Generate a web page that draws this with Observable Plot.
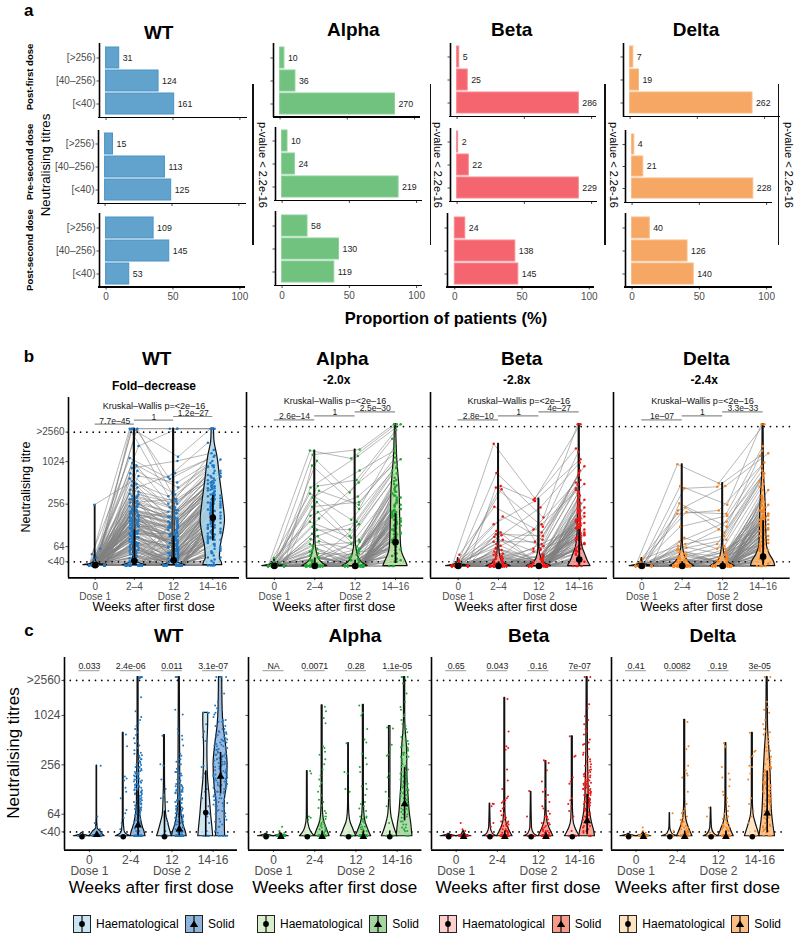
<!DOCTYPE html>
<html><head><meta charset="utf-8">
<script src="https://cdn.jsdelivr.net/npm/d3@7"></script>
<script src="https://cdn.jsdelivr.net/npm/@observablehq/plot@0.6"></script>
<style>
html,body{margin:0;padding:0;background:#fff}
#page{position:relative;width:800px;height:939px;overflow:hidden;font-family:"Liberation Sans",Arial,sans-serif;color:#000}
.t{position:absolute;white-space:nowrap;line-height:1}
</style></head><body><div id="page"></div>
<script>
// ---------- labels ----------
const variants = ["WT","Alpha","Beta","Delta"];
const titreCats = ["[>256)","[40–256)","[<40)"];
const rowNames = ["Post-first dose","Pre-second dose","Post-second dose"];
const weekLabelsB = ["0","2–4","12","14–16"];
const weekLabelsC = ["0","2-4","12","14-16"];
// ---------- panel a : proportion of patients (%) and counts, per dose row ----------
const wtPct    = [[9.8,39.2,50.9],[5.9,44.7,49.4],[35.5,47.2,17.3]];
const wtN      = [[31,124,161],[15,113,125],[109,145,53]];
const alphaPct = [[3.2,11.4,85.4],[4.0,9.5,86.6],[18.9,42.3,38.8]];
const alphaN   = [[10,36,270],[10,24,219],[58,130,119]];
const betaPct  = [[1.6,7.9,90.5],[0.8,8.7,90.5],[7.8,45.0,47.2]];
const betaN    = [[5,25,286],[2,22,229],[24,138,145]];
const deltaPct = [[2.4,6.6,91.0],[1.6,8.3,90.1],[13.1,41.2,45.8]];
const deltaN   = [[7,19,262],[4,21,228],[40,126,140]];
// ---------- panel b : titres per patient (same index = same patient) ----------
const floor80 = [35,35,35,35,35,35,35,35,35,35,35,35,35,35,35,35,35,35,35,35,35,35,35,35,35,35,35,35,35,35,35,35,35,35,35,35,35,35,35,35,35,35,35,35,35,35,35,35,35,35,35,35,35,35,35,35,35,35,35,35,35,35,35,35,35,35,35,35,35,35,35,35,35,35,35,35,35,35,35,35];
const wtWk0 = [35,35,35,60,35,35,35,50,35,35,35,35,45,35,35,250,35,35,35,35,42,35,35,35,35,35,35,35,35,35,35,35,35,35,35,35,38,35,35,35,35,35,35,35,35,35,35,35,35,35,35,35,35,35,35,35,35,35,35,35,35,35,35,35,35,35,35,35,35,35,35,35,35,35,35,35,35,35,35,35,...floor80];
const wtWk2 = [3000,3000,2900,3000,3000,2950,1700,1150,980,900,830,760,700,640,590,540,500,470,440,410,385,360,335,315,300,285,270,255,240,228,215,205,195,185,176,168,160,152,145,138,131,125,119,113,107,102,97,92,87,82,78,74,70,66,62,58,54,50,46,43,40,38,35,35,35,35,35,35,35,35,35,35,35,35,35,35,35,35,35,35,
 210,175,150,128,300,95,240,118,88,160,72,200,135,56,105,260,82,145,64,190,48,112,330,92,170,76,125,52,220,100,68,155,44,84,280,60,130,115,180,40,90,205,74,140,58,350,98,165,66,122,235,50,108,148,86,46,195,70,136,62,35,35,35,35,35,35,35,35,35,35,35,35,35,35,35,35,35,35,35,35];
const wtWk12 = [3000,1200,620,3000,300,210,3000,580,440,260,1050,350,190,520,230,120,330,145,700,280,98,170,210,64,125,88,300,140,72,52,110,44,160,70,35,95,55,120,40,80,66,35,130,50,35,75,100,40,58,35,45,62,35,85,38,35,48,35,35,42,35,35,190,90,58,35,35,42,35,35,125,35,35,35,50,35,35,35,35,35,
 160,95,210,64,120,48,170,80,35,110,42,140,60,35,75,190,35,100,40,130,35,70,230,55,105,35,90,38,150,50,35,115,35,62,200,35,85,78,125,35,58,145,44,92,35,260,52,118,35,72,165,35,66,96,45,35,135,35,88,40,35,35,52,35,35,80,35,35,35,44,35,35,60,35,35,35,35,35,35,35];
const wtWk14 = [3000,3000,1900,3000,1500,1100,3000,1250,980,860,1350,900,640,1050,760,520,880,610,1200,700,420,560,640,330,450,360,760,480,300,260,400,220,510,310,165,350,240,430,190,320,280,150,460,210,130,300,370,175,240,120,195,270,105,330,140,95,205,88,80,160,70,60,540,340,225,115,100,145,64,52,390,84,45,40,180,56,35,35,35,35,
 480,320,620,210,390,170,560,250,120,340,110,430,190,90,240,700,100,290,130,410,85,220,850,160,310,95,270,75,520,155,105,360,70,185,660,125,260,230,440,66,180,500,140,280,115,900,165,350,98,205,590,80,200,300,135,72,460,88,245,110,60,150,215,55,48,260,175,42,35,120,145,38,195,35,80,105,35,52,35,45];
const alphaWk0 = [35,35,35,35,40,35,35,35,35,35,35,45,35,35,35,35,35,38,35,35,35,35,35,35,35,35,35,35,35,35,35,35,35,35,35,35,35,35,35,35,35,35,35,35,35,35,35,35,35,35,35,35,35,35,35,35,35,35,35,35,...floor80.slice(0,50)];
const alphaWk2 = [1310,1150,950,820,430,410,370,340,300,260,225,190,170,155,140,120,108,96,90,82,76,70,66,60,56,52,48,45,42,40,38,38,35,35,35,35,35,35,35,35,35,35,35,35,35,35,35,35,35,35,35,35,35,35,35,35,35,35,35,35,
 35,48,35,35,60,35,42,35,35,35,55,35,35,38,35,35,44,35,35,35,35,35,50,35,35,35,35,40,35,35,35,35,35,35,35,46,35,35,35,35,35,35,35,35,35,35,35,35,35,35];
const alphaWk12 = [1020,1350,350,210,520,1100,240,150,700,90,260,64,310,480,85,60,110,40,140,35,56,35,75,45,35,50,35,35,70,35,35,130,35,35,58,35,35,35,80,35,35,35,42,35,35,35,35,35,35,35,35,35,35,35,35,35,35,35,35,35,
 35,35,52,35,35,35,60,35,38,35,35,35,45,35,35,35,35,48,35,35,35,35,35,42,35,35,35,35,35,55,35,35,35,35,40,35,35,35,35,35,35,35,35,44,35,35,35,35,35,35];
const alphaWk14 = [3000,3000,1900,1500,2500,3000,1050,800,1300,620,900,520,1000,1200,640,460,700,380,760,300,420,260,500,340,230,360,210,190,440,170,160,560,150,140,320,130,125,110,400,100,96,88,280,80,74,68,64,240,58,52,200,48,180,44,42,120,40,35,35,35,
 160,210,130,300,95,180,240,85,145,120,260,110,340,75,190,100,420,140,70,170,225,90,125,64,280,150,80,205,115,58,360,135,105,185,68,250,155,52,95,320,48,125,175,60,110,44,85,195,40,72];
const betaWk0 = [35,35,35,35,35,50,35,35,35,42,35,35,35,35,35,35,40,35,35,35,35,35,35,35,35,35,35,35,35,35,35,35,35,35,35,35,35,35,35,35,35,35,35,35,35,35,35,35,35,35,35,35,35,35,35,35,35,35,35,35,...floor80.slice(0,50)];
const betaWk2 = [1620,650,430,410,390,225,165,130,105,100,95,92,88,80,75,70,66,62,58,55,52,50,48,46,44,42,40,40,38,38,35,35,35,35,35,35,35,35,35,35,35,35,35,35,35,35,35,35,35,35,35,35,35,35,35,35,35,35,35,35,
 35,35,44,35,35,35,52,35,35,38,35,35,35,60,35,35,35,42,35,35,35,48,35,35,35,35,35,35,40,35,35,35,35,35,35,46,35,35,35,35,35,35,35,35,35,35,35,35,35,35];
const betaWk12 = [290,160,280,120,60,100,80,270,65,40,90,220,35,50,75,35,110,35,44,35,40,35,35,60,35,35,130,35,35,48,35,35,35,70,35,35,35,55,35,35,42,35,35,35,38,35,35,35,35,35,35,35,35,35,35,35,35,35,35,35,
 35,40,35,35,50,35,35,35,35,44,35,35,35,35,58,35,35,35,38,35,35,35,35,46,35,35,35,35,35,35,42,35,35,35,35,35,35,35,35,35,35,35,35,35,35,35,35,35,35,35];
const betaWk14 = [3000,3000,1400,1250,700,800,650,1000,450,380,600,900,280,360,520,260,480,240,320,220,300,200,190,400,180,170,460,160,155,340,150,145,140,135,130,125,120,115,110,105,100,96,92,88,84,80,74,70,64,60,55,50,46,42,40,38,35,35,35,35,
 120,95,180,75,210,140,64,160,110,88,250,130,58,195,100,70,150,82,225,52,115,170,92,66,135,280,78,48,105,185,60,125,44,145,85,205,72,40,98,155,56,118,68,165,46,90,130,62,42,108];
const deltaWk0 = [35,35,35,35,35,35,40,35,35,35,35,35,44,35,35,35,35,35,35,38,35,35,35,35,35,35,35,35,35,35,35,35,35,35,35,35,35,35,35,35,35,35,35,35,35,35,35,35,35,35,35,35,35,35,35,35,35,35,35,35,...floor80.slice(0,50)];
const deltaWk2 = [850,430,400,250,220,200,190,180,120,85,75,70,66,62,58,55,52,48,46,44,42,40,40,38,38,35,35,35,35,35,35,35,35,35,35,35,35,35,35,35,35,35,35,35,35,35,35,35,35,35,35,35,35,35,35,35,35,35,35,35,
 35,35,50,35,35,42,35,35,60,35,35,35,38,35,35,46,35,35,35,35,54,35,35,35,35,40,35,35,35,35,35,35,44,35,35,35,35,35,35,35,35,35,35,35,35,35,35,35,35,35];
const deltaWk12 = [470,240,420,120,100,430,180,200,170,60,140,90,50,80,110,45,70,40,65,35,55,35,42,35,48,35,35,35,35,35,35,35,35,60,35,35,35,35,44,35,35,35,35,35,35,35,35,35,35,35,35,35,35,35,35,35,35,35,35,35,
 35,44,35,35,35,35,56,35,35,35,40,35,35,35,50,35,35,35,35,35,38,35,35,35,46,35,35,35,35,35,35,35,35,42,35,35,35,35,35,35,35,35,35,35,35,35,35,35,35,35];
const deltaWk14 = [3000,3000,1100,1300,650,1200,1500,900,800,420,700,560,380,600,640,320,500,280,460,240,380,220,260,200,300,190,180,170,160,155,150,145,140,130,125,120,110,105,100,96,90,85,80,75,70,66,62,58,54,50,46,44,42,40,38,35,35,35,35,35,
 110,170,85,220,130,66,190,95,150,75,260,120,56,200,105,80,160,48,240,90,140,60,180,100,70,300,125,52,210,115,64,155,44,135,85,175,72,40,95,230,58,145,68,110,46,195,88,62,125,42];
// violin outlines of panel b: [titre, half width in week-slots]
const wtViolinsB = [
 [[35,.3],[36.5,.1],[40,.02],[60,.008],[250,.008]],
 [[35,.3],[37,.15],[40,.05],[50,.025],[128,.025],[500,.015],[3000,.012]],
 [[35,.3],[37,.16],[40,.05],[50,.025],[128,.025],[500,.015],[3000,.012]],
 [[35,.24],[38,.23],[44,.18],[64,.2],[100,.27],[150,.31],[256,.27],[560,.19],[1190,.12],[2060,.04],[3000,.03]]];
const alphaViolinsB = [
 [[35,.3],[36.5,.1],[39,.02],[45,.005]],
 [[35,.31],[38,.2],[44,.1],[54,.05],[70,.02],[128,.012],[1310,.01]],
 [[35,.31],[38,.2],[44,.1],[54,.05],[70,.02],[128,.012],[1350,.01]],
 [[35,.3],[40,.26],[52,.17],[64,.14],[120,.12],[375,.1],[1070,.04],[3000,.015]]];
const betaViolinsB = [
 [[35,.3],[36.5,.1],[39,.02],[45,.005]],
 [[35,.3],[38,.15],[44,.06],[60,.02],[128,.012],[1620,.01]],
 [[35,.3],[38,.16],[44,.06],[60,.015],[290,.01]],
 [[35,.28],[40,.22],[50,.15],[64,.08],[100,.04],[200,.03],[500,.015],[3000,.012]]];
const deltaViolinsB = [
 [[35,.3],[36.5,.1],[39,.02],[45,.005]],
 [[35,.3],[38,.2],[44,.1],[54,.04],[75,.015],[850,.01]],
 [[35,.3],[38,.18],[44,.08],[56,.03],[80,.012],[470,.01]],
 [[35,.3],[40,.27],[50,.17],[64,.1],[100,.08],[200,.07],[350,.05],[700,.02],[3000,.012]]];
const medB = [[35,40,41,164],[35,35,35,74],[35,35,35,43],[35,35,35,47]];
const q1B  = [[35,35,35,77],[35,35,35,38],[35,35,35,36],[35,35,35,36]];
const q3B  = [[35,110,90,340],[35,45,42,180],[35,40,38,110],[35,40,40,145]];
const kwP  = ["7.7e–45","1","1.2e–27","2.6e–14","1","2.5e–30","2.8e–10","1","4e–27","1e–07","1","3.3e–33"];
const subB = ["Fold–decrease","-2.0x","-2.8x","-2.4x"];
// ---------- panel c : haematological patients' titres; solid patients reuse the lists of panel b ----------
const wtHaem = [
 [35,35,35,35,35,35,35,35,35,35],
 [600,430,185,175,165,135,120,100,72,66,58,50,42,35,35,35,35,35,35,35,35,35],
 [580,260,250,170,130,110,100,90,70,60,50,40,35,35,35,35,35,35,35,35,35],
 [1100,1100,1100,800,650,560,500,250,240,200,180,130,120,100,80,65,60,50,40,35,35,35,35,35,35,35]];
const alphaHaem = [
 [35,35,35,35,35,35,35,35],
 [215,200,60,58,55,35,35,35,35,35,35,35,35,35],
 [470,210,200,130,120,35,35,35,35,35,35,35,35,35],
 [730,710,450,400,340,330,200,180,120,100,80,60,50,35,35,35,35,35,35,35,35,35]];
const betaHaem = [
 [35,35,35,35,35,35,35,35],
 [86,85,80,50,45,35,35,35,35,35,35,35,35],
 [123,60,45,35,35,35,35,35,35,35,35,35],
 [570,330,320,180,160,150,100,95,85,80,70,60,40,35,35,35,35,35,35,35,35]];
const deltaHaem = [
 [35,35,35,35,35,35,35,35],
 [66,40,35,35,35,35,35,35,35,35,35,35],
 [77,60,38,35,35,35,35,35,35,35,35,35],
 [630,380,370,330,320,250,240,200,170,100,85,70,60,50,40,35,35,35,35,35,35,35,35]];
// violin outlines of panel c: one pair [haematological, solid] per week-slot
const wtViolinsC = [
 [[[34.5,.2],[36,.05],[38,.006]], [[34.5,.19],[37,.13],[39,.1],[43,.02],[60,.006],[250,.006]]],
 [[[34.5,.18],[36,.1],[40,.03],[60,.01],[630,.01]], [[34.5,.18],[40,.15],[44,.12],[58,.065],[85,.03],[256,.02],[500,.012],[3000,.012]]],
 [[[34.5,.18],[40,.14],[52,.08],[64,.04],[90,.025],[200,.012],[590,.01]], [[34.5,.18],[40,.15],[44,.12],[58,.065],[85,.03],[256,.02],[3000,.012]]],
 [[[34.5,.18],[40,.17],[64,.13],[100,.1],[180,.055],[400,.04],[900,.06],[1100,.06]], [[34.5,.11],[64,.1],[90,.1],[130,.14],[256,.17],[450,.13],[800,.07],[1200,.05],[3000,.04]]]];
const alphaViolinsC = [
 [[[34.5,.2],[36,.04],[37,.005]], [[34.5,.19],[36,.05],[37.5,.005]]],
 [[[34.5,.18],[38,.11],[44,.05],[60,.012],[215,.008]], [[34.5,.18],[38,.15],[44,.1],[50,.06],[64,.025],[100,.012],[1360,.012]]],
 [[[34.5,.19],[38,.15],[44,.1],[50,.055],[64,.02],[90,.01],[470,.008]], [[34.5,.19],[38,.15],[44,.1],[50,.06],[64,.025],[100,.012],[1380,.012]]],
 [[[34.5,.19],[40,.14],[50,.08],[64,.035],[100,.016],[760,.018]], [[34.5,.19],[50,.16],[64,.13],[100,.1],[180,.07],[400,.06],[700,.025],[1000,.015],[3000,.015]]]];
const betaViolinsC = [
 [[[34.5,.2],[36,.04],[37,.005]], [[34.5,.19],[36,.05],[40,.005]]],
 [[[34.5,.17],[37,.07],[44,.02],[86,.006]], [[34.5,.19],[38,.14],[44,.08],[54,.03],[80,.012],[1680,.01]]],
 [[[34.5,.17],[37,.07],[44,.02],[120,.006]], [[34.5,.18],[38,.14],[44,.08],[54,.03],[80,.012],[285,.01]]],
 [[[34.5,.18],[38,.13],[44,.07],[56,.025],[100,.012],[570,.012]], [[34.5,.19],[40,.17],[50,.12],[64,.08],[100,.045],[180,.03],[400,.02],[3000,.012]]]];
const deltaViolinsC = [
 [[[34.5,.2],[36,.04],[37,.005]], [[34.5,.19],[36,.05],[38,.005]]],
 [[[34.5,.19],[37,.06],[44,.01],[66,.004]], [[34.5,.19],[38,.15],[44,.1],[50,.06],[64,.025],[100,.012],[905,.012]]],
 [[[34.5,.18],[37,.08],[44,.02],[77,.005]], [[34.5,.19],[38,.15],[44,.1],[50,.055],[64,.025],[100,.012],[470,.01]]],
 [[[34.5,.18],[40,.14],[50,.08],[64,.03],[100,.012],[630,.012]], [[34.5,.19],[40,.17],[64,.12],[100,.1],[165,.09],[350,.06],[800,.02],[3000,.012]]]];
const medHaem  = [[34,34,34,67],[34,34,34,34],[34,34,34,34],[34,34,34,34]];
const q3Haem   = [[34,34,70,216],[34,34,34,40],[34,34,34,34],[34,34,34,36]];
const medSolid = [[36,47,42,184],[34,34,34,85],[34,34,34,53],[34,34,34,66]];
const q1Solid  = [[35,35,35,113],[34,34,34,53],[34,34,34,36],[34,34,34,38]];
const q3Solid  = [[36,124,93,361],[34,40,40,236],[34,40,38,112],[34,40,40,215]];
const pC = [["0.033","2.4e-06","0.011","3.1e-07"],["NA","0.0071","0.28","1.1e-05"],["0.65","0.043","0.16","7e-07"],["0.41","0.0082","0.19","3e-05"]];
// ---------- styles ----------
const barFill   = ["#62a3ce","#71c17f","#f4656f","#f6a764"];
const barEdge   = ["#4a94c6","#8ad09a","#f78a90","#f9b981"];
const violinB   = ["#a6d3ea","#b3dd9a","#f6958f","#fbb46a"];
const pointCol  = ["#1f78c4","#22a534","#f01414","#f5821f"];
const haemFill  = ["#c9e4f2","#d7eecb","#fdd0cd","#fde3bf"];
const solidFill = ["#8fb4dc","#a6d6a0","#f89a8a","#fbbf85"];
const jit = [-.11,.05,.14,-.03,.09,-.16,.02,.12,-.07,.17,-.13,.07,-.01,.15,-.09,.04,-.18,.10,-.05,.13,-.14];
const grey = "#4d4d4d";
const page = document.getElementById("page");

function label(text,x,y,{size=10,weight="normal",rot=0,color="#000",anchor="-50%"}={}){
  const d=document.createElement("div");d.className="t";d.textContent=text;
  d.style.cssText+=`left:${x}px;top:${y}px;font-size:${size}px;font-weight:${weight};color:${color};transform:translate(${anchor},-50%) rotate(${rot}deg);`;
  page.appendChild(d);
}
function vbar(x,y1,y2){
  const d=document.createElement("div");
  d.style.cssText=`position:absolute;left:${x-.8}px;top:${y1}px;width:1.6px;height:${y2-y1}px;background:#111`;
  page.appendChild(d);
}
function place([left,right,top,bottom],opts,m={}){
  const {l=45,r=6,t=6,b=40}=m;
  const svg=Plot.plot({width:right-left+l+r,height:bottom-top+t+b,marginLeft:l,marginRight:r,marginTop:t,marginBottom:b,
    style:{background:"transparent",fontFamily:'"Liberation Sans",Arial,sans-serif',overflow:"visible"},...opts});
  svg.style.position="absolute";svg.style.left=(left-l)+"px";svg.style.top=(top-t)+"px";
  page.appendChild(svg);
}

// ========== panel a ==========
const aRows = [
 [[99,248,43,117.5],[98,247,130,203.5],[99,246,213,287]],
 [[273.3,421,43,117],[275,422.5,127,200.5],[275,422.5,211,285.5]],
 [[450,597,43,116.5],[450,597.5,128,201.5],[447,595,213,287]],
 [[623.3,780.7,43,116.5],[625,773,130,202.5],[625,772.5,213,287]]];
const aPct=[wtPct,alphaPct,betaPct,deltaPct], aN=[wtN,alphaN,betaN,deltaN];
const pctScale=[1.338,1.345,1.345,1.345];
aRows.forEach((rows,v)=>rows.forEach((spec,row)=>{
  const [left,right]=spec;
  const d0=-(v===2&&row===2?7.3:6.6)/pctScale[v];
  const x1=d0+(right-left)/pctScale[v];
  const data=titreCats.map((c,i)=>({c,p:aPct[v][row][i],n:aN[v][row][i]}));
  place(spec,{
    x:{domain:[d0,x1],axis:null},
    y:{type:"band",domain:titreCats,paddingInner:.1,paddingOuter:.138,axis:null},
    marks:[
      Plot.barX(data,{x1:0,x2:"p",y:"c",fill:barFill[v],stroke:barEdge[v],strokeWidth:1}),
      Plot.text(data,{x:"p",y:"c",text:"n",textAnchor:"start",dx:3.5,fontSize:8.8,fill:"#222"}),
      Plot.axisY({anchor:"left",label:null,tickSize:2.5,tickPadding:1.5,fontSize:10,color:grey,
        tickFormat:v===0?(d=>d):(()=>"")}),
      Plot.axisX([0,50,100],{anchor:"bottom",label:null,tickSize:2.5,tickPadding:3,fontSize:10,color:grey,
        tickFormat:row===2?(d=>d):(()=>"")}),
      Plot.ruleX([d0],{stroke:"#000",strokeWidth:1.6}),
    ]
  },{l:50,b:18});
}));
// bottom axis line of each panel-a cell
aRows.forEach(rows=>rows.forEach(([left,right,,bottom])=>{
  const d=document.createElement("div");
  d.style.cssText=`position:absolute;left:${left-.8}px;top:${bottom-.8}px;width:${right-left}px;height:1.6px;background:#000`;
  page.appendChild(d);
}));
[[158.7,32],[353.3,29.3],[511.7,29.3],[696,29.3]].forEach(([x,y],i)=>label(variants[i],x,y,{size:19,weight:"bold"}));
label("a",28.7,10,{size:17,weight:"bold"});
label(rowNames[0],29.7,76.7,{size:9.5,weight:"bold",rot:-90});
label(rowNames[1],29.7,162,{size:9.5,weight:"bold",rot:-90});
label(rowNames[2],29.7,250,{size:9.5,weight:"bold",rot:-90});
label("Neutralising titres",45.7,165,{size:13.3,rot:-90});
label("Proportion of patients (%)",446,318.3,{size:16.5,weight:"bold"});
[[253,261.7],[430.7,437.3],[605,613.3],[778.3,788.3]].forEach(([x,tx])=>{
  vbar(x,84.3,245);
  label("p-value < 2.2e-16",tx,164.5,{size:11,rot:90});
});

// ========== panel b ==========
const bSpecs=[[68.3,239.3,397.3,577.7],[245.7,423,392.3,578],[430,607,392.3,578],[613.3,790,392.3,578]];
const bX=[[-.68,3.68],[-.69,3.7],[-.686,3.7],[-.7,3.67]];
const bY=[[23.1,8300],[23.9,8090],[23.9,8090],[23.9,8090]];
const bTicks=[[39,64,256,1024,2680],[40,64,256,1024,2780],[40,64,256,1024,2780],[40,64,256,1024,2780]];
const bLists=[[wtWk0,wtWk2,wtWk12,wtWk14],[alphaWk0,alphaWk2,alphaWk12,alphaWk14],[betaWk0,betaWk2,betaWk12,betaWk14],[deltaWk0,deltaWk2,deltaWk12,deltaWk14]];
const bViolins=[wtViolinsB,alphaViolinsB,betaViolinsB,deltaViolinsB];
const bRules=[[3480,3970,4470],[3430,3890,4410],[3430,3890,4410],[3430,3890,4410]];
const kwY=[6330,6150,6150,6150];
const tickText=(ticks,show)=>d=>!show?"":d===ticks[0]?"<40":d===ticks[4]?">2560":String(d);

function axesFor(v,ticks,labels,fs,showY,xDomain,yDomain,pad2){
  return [
    Plot.axisY(ticks,{anchor:"left",label:null,tickSize:2.5,tickPadding:1.5,fontSize:fs,color:grey,text:tickText(ticks,showY)}),
    Plot.axisX([0,1,2,3],{anchor:"bottom",label:null,tickSize:2.5,tickPadding:2.5,fontSize:fs,color:grey,tickFormat:d=>labels[d]}),
    Plot.axisX([0,2],{anchor:"bottom",label:null,tickSize:0,tickPadding:pad2,fontSize:fs,color:grey,tickFormat:d=>d===0?"Dose 1":"Dose 2"}),
    Plot.ruleX([xDomain[0]],{stroke:"#000",strokeWidth:1.6}),
    Plot.ruleY([yDomain[0]],{stroke:"#000",strokeWidth:1.6}),
  ];
}
bSpecs.forEach((spec,v)=>{
  const lists=bLists[v];
  const long=lists.flatMap((vals,t)=>vals.map((val,p)=>({p,t,val,x:t+jit[(p*3+t*5)%jit.length]*(t===3&&v===0?1.15:(val<=36?1.4:.75))})));
  const violins=bViolins[v].flatMap((prof,t)=>prof.map(([y,h])=>({t,y,x1:t-h,x2:t+h})));
  const summ=[0,1,2,3].map(t=>({t,m:medB[v][t],a:q1B[v][t],b:q3B[v][t]}));
  const br=[0,1,2].map(i=>({i,y:bRules[v][i],p:kwP[v*3+i]}));
  place(spec,{
    x:{domain:bX[v],axis:null},
    y:{type:"log",base:2,domain:bY[v],axis:null},
    marks:[
      Plot.line(long,{x:"x",y:"val",z:"p",stroke:"#808080",strokeWidth:.7,strokeOpacity:.8}),
      Plot.ruleY([bTicks[v][0],bTicks[v][4]],{stroke:"#000",strokeWidth:1.7,strokeDasharray:"0 6.3",strokeLinecap:"round"}),
      Plot.areaX(violins,{x1:"x1",x2:"x2",y:"y",z:"t",curve:"monotone-y",fill:violinB[v],fillOpacity:.85,stroke:"#111",strokeWidth:1.2}),
      Plot.dot(long,{x:"x",y:"val",r:1.25,fill:pointCol[v],stroke:"none"}),
      Plot.ruleX(summ,{x:"t",y1:"a",y2:"b",stroke:"#000",strokeWidth:1.8}),
      Plot.dot(summ,{x:"t",y:"m",r:3.3,fill:"#000",stroke:"none"}),
      Plot.ruleY(br,{y:"y",x1:"i",x2:d=>d.i+1,stroke:"#8c8c8c",strokeWidth:1.1}),
      Plot.text(br,{x:d=>d.i+.5,y:"y",text:"p",dy:-3.2,fontSize:8.6,fill:"#222"}),
      Plot.text(["Kruskal–Wallis p=<2e–16"],{x:()=>1.5,y:()=>kwY[v],text:d=>d,fontSize:9.1,fill:"#111"}),
      ...axesFor(v,bTicks[v],weekLabelsB,10,v===0,bX[v],bY[v],14.5),
    ]
  },{b:32});
});
[[156.7,358.3],[342.3,358.3],[521.7,358.3],[706.3,358.3]].forEach(([x,y],i)=>label(variants[i],x,y,{size:19,weight:"bold"}));
[[154,386],[336.7,380],[516.7,380],[704.3,380]].forEach(([x,y],i)=>label(subB[i],x,y,{size:12,weight:"bold"}));
label("b",29,355.7,{size:17,weight:"bold"});
label("Neutralising titre",25.7,487,{size:12.6,rot:-90});
[153.7,334,516,701.7].forEach(x=>label("Weeks after first dose",x,607,{size:12.7}));

// ========== panel c ==========
const cSpecs=[[64.3,237.3,656.7,849.3],[248.3,421.7,656.7,849.3],[431.3,603,656.7,849.3],[611,784,656.7,849.3]];
const cX=[[-.604,3.59],[-.607,3.6],[-.6,3.57],[-.595,3.6]];
const cY=[23.4,5200];
const cTicks=[39,64,256,1024,2730];
const haemLists=[wtHaem,alphaHaem,betaHaem,deltaHaem];
const cViolins=[wtViolinsC,alphaViolinsC,betaViolinsC,deltaViolinsC];
const dodge=.18;
cSpecs.forEach((spec,v)=>{
  const pts=(lists,side)=>lists.flatMap((vals,t)=>vals.map((val,p)=>({t,val,x:t+side*dodge+jit[(p*2+t*7)%jit.length]*(t===3&&side>0&&v===0?.95:.55)})));
  const hp=pts(haemLists[v],-1), sp=pts(bLists[v],1);
  const viol=(k,side)=>cViolins[v].flatMap((pair,t)=>pair[k].map(([y,h])=>({t,y,x1:t+side*dodge-h,x2:t+side*dodge+h})));
  const sH=[0,1,2,3].map(t=>({x:t-dodge,m:medHaem[v][t],a:34,b:q3Haem[v][t]}));
  const sS=[0,1,2,3].map(t=>({x:t+dodge,m:medSolid[v][t],a:q1Solid[v][t],b:q3Solid[v][t]}));
  place(spec,{
    x:{domain:cX[v],axis:null},
    y:{type:"log",base:2,domain:cY,axis:null},
    marks:[
      Plot.ruleY([cTicks[0],cTicks[4]],{stroke:"#000",strokeWidth:1.7,strokeDasharray:"0 6.3",strokeLinecap:"round"}),
      Plot.areaX(viol(0,-1),{x1:"x1",x2:"x2",y:"y",z:"t",curve:"monotone-y",fill:haemFill[v],fillOpacity:.9,stroke:"#111",strokeWidth:1.2}),
      Plot.areaX(viol(1,1),{x1:"x1",x2:"x2",y:"y",z:"t",curve:"monotone-y",fill:solidFill[v],fillOpacity:.9,stroke:"#111",strokeWidth:1.2}),
      Plot.dot(hp,{x:"x",y:"val",r:1,fill:pointCol[v],stroke:"none"}),
      Plot.dot(sp,{x:"x",y:"val",r:1,fill:pointCol[v],stroke:"none"}),
      Plot.ruleX(sH,{x:"x",y1:"a",y2:"b",stroke:"#000",strokeWidth:1.6}),
      Plot.ruleX(sS,{x:"x",y1:"a",y2:"b",stroke:"#000",strokeWidth:1.6}),
      Plot.dot(sH,{x:"x",y:"m",r:2.8,fill:"#000",stroke:"none"}),
      Plot.dot(sS,{x:"x",y:"m",symbol:"triangle",r:2.9,fill:"#000",stroke:"none"}),
      Plot.ruleY([0,1,2,3],{y:()=>3590,x1:d=>d-.255,x2:d=>d+.255,stroke:"#999",strokeWidth:1}),
      Plot.text([0,1,2,3],{x:d=>d,y:()=>4050,text:d=>pC[v][d],fontSize:8.8,fill:"#222"}),
      ...axesFor(v,cTicks,weekLabelsC,12,v===0,cX[v],cY,16),
    ]
  },{b:34});
});
[[168.7,635],[355,635],[528.7,635],[712.7,635]].forEach(([x,y],i)=>label(variants[i],x,y,{size:19,weight:"bold"}));
label("c",29,630,{size:17,weight:"bold"});
label("Neutralising titres",13,752.7,{size:17,rot:-90});
[151.3,334.7,518,697.5].forEach(x=>label("Weeks after first dose",x,888.3,{size:17.1}));

// legend
function key(x,fill,tri){
  const svg=d3.create("svg").attr("width",18).attr("height",18)
    .style("position","absolute").style("left",x+"px").style("top","915px");
  svg.append("rect").attr("x",.5).attr("y",.5).attr("width",17).attr("height",17).attr("fill",fill).attr("stroke","#222").attr("stroke-width",1);
  svg.append("line").attr("x1",9).attr("x2",9).attr("y1",1).attr("y2",17).attr("stroke","#111").attr("stroke-width",1.2);
  if(tri) svg.append("path").attr("d","M9 5.5 L13.2 12 L4.8 12 Z").attr("fill","#000");
  else svg.append("circle").attr("cx",9).attr("cy",9).attr("r",2.9).attr("fill","#000");
  page.appendChild(svg.node());
}
[[72.5,96,185,208],[256.7,280,369,392.3],[439,462.3,551.7,574.7],[619,642.3,731.3,754.3]].forEach(([a,b,c,d],v)=>{
  key(a,haemFill[v],false);
  label("Haematological",b,924,{size:12,anchor:"0"});
  key(c,solidFill[v],true);
  label("Solid",d,924,{size:12,anchor:"0"});
});
</script></body></html>
